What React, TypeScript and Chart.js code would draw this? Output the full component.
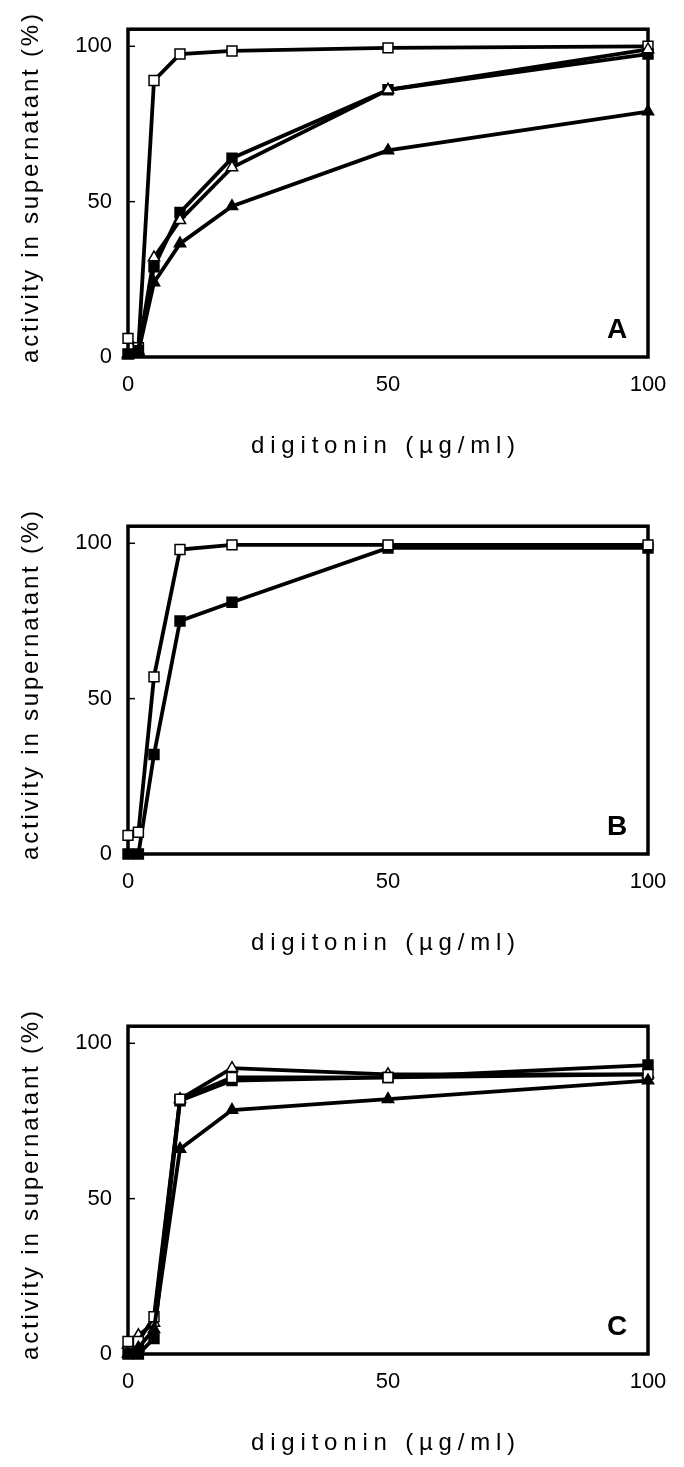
import React, { useEffect, useRef } from "react";
import { Chart, registerables } from "chart.js";

Chart.register(...registerables);

// digitonin concentrations (µg/ml)
const doseX = [0, 2, 5, 10, 20, 50, 100];
const xTickValues = [0, 50, 100];
const yTickValues = [0, 50, 100];

const xTitle = "digitonin (µg/ml)";
const yTitle = "activity in supernatant (%)";

// Panel A
const openSquareA = [6, 3, 89, 97.5, 98.5, 99.5, 100];
const filledSquareA = [1, 2, 29, 46.5, 64, 86, 97.5];
const openTriangleA = [1, 2, 32, 44, 61, 86, 99];
const filledTriangleA = [0.5, 1.5, 24, 36.5, 48.5, 66.5, 79];

// Panel B
const openSquareB = [6, 7, 57, 98, 99.5, 99.5, 99.5];
const filledSquareB = [0, 0, 32, 75, 81, 98.5, 98.5];

// Panel C
const openSquareC = [4, 4, 12, 82, 89, 89, 90];
const filledSquareC = [0, 0, 5, 81.5, 88, 89, 93];
const openTriangleC = [3, 6, 10, 82, 92, 90, 90];
const filledTriangleC = [0, 2, 8, 66, 78.5, 82, 88];

const FONT = '"Liberation Sans", Arial, Helvetica, sans-serif';

type SeriesDef = { label: string; values: number[]; shape: "rect" | "triangle"; filled: boolean };

const panelDefs: { letter: string; top: number; series: SeriesDef[] }[] = [
  {
    letter: "A",
    top: 0,
    series: [
      { label: "filled triangle", values: filledTriangleA, shape: "triangle", filled: true },
      { label: "open triangle", values: openTriangleA, shape: "triangle", filled: false },
      { label: "filled square", values: filledSquareA, shape: "rect", filled: true },
      { label: "open square", values: openSquareA, shape: "rect", filled: false },
    ],
  },
  {
    letter: "B",
    top: 497,
    series: [
      { label: "open square", values: openSquareB, shape: "rect", filled: false },
      { label: "filled square", values: filledSquareB, shape: "rect", filled: true },
    ],
  },
  {
    letter: "C",
    top: 997,
    series: [
      { label: "filled triangle", values: filledTriangleC, shape: "triangle", filled: true },
      { label: "open square", values: openSquareC, shape: "rect", filled: false },
      { label: "open triangle", values: openTriangleC, shape: "triangle", filled: false },
      { label: "filled square", values: filledSquareC, shape: "rect", filled: true },
    ],
  },
];

const framePlugin = {
  id: "frame",
  beforeDatasetsDraw(chart: any) {
    const { ctx, chartArea } = chart;
    const { left, top, right, bottom } = chartArea;
    ctx.save();
    ctx.strokeStyle = "#000";
    ctx.lineWidth = 3.5;
    ctx.strokeRect(left, top, right - left, bottom - top);
    ctx.lineWidth = 1.5;
    const ys = chart.scales.y;
    yTickValues.forEach((v) => {
      const py = ys.getPixelForValue(v);
      ctx.beginPath();
      ctx.moveTo(left, py);
      ctx.lineTo(left + 7, py);
      ctx.stroke();
    });
    ctx.restore();
  },
  afterDraw(chart: any, _args: any, opts: any) {
    const { ctx, chartArea } = chart;
    const { left, top, right, bottom } = chartArea;
    ctx.save();
    ctx.fillStyle = "#000";
    // x title
    ctx.font = `24px ${FONT}`;
    (ctx as any).letterSpacing = "5.8px";
    ctx.textAlign = "center";
    ctx.textBaseline = "middle";
    ctx.fillText(xTitle, (left + right) / 2 - 2, 446);
    // y title
    (ctx as any).letterSpacing = "2.8px";
    ctx.font = `24px ${FONT}`;
    ctx.translate(31, (top + bottom) / 2 - 6);
    ctx.rotate(-Math.PI / 2);
    ctx.fillText(yTitle, 0, 0);
    ctx.restore();
    // panel letter
    ctx.save();
    (ctx as any).letterSpacing = "0px";
    ctx.fillStyle = "#000";
    ctx.font = `bold 28px "Liberation Sans Narrow", ${FONT}`;
    ctx.textAlign = "center";
    ctx.textBaseline = "alphabetic";
    ctx.fillText(opts.letter, right - 31, bottom - 19);
    ctx.restore();
  },
};

function Panel({ def }: { def: (typeof panelDefs)[number] }) {
  const ref = useRef<HTMLCanvasElement | null>(null);
  useEffect(() => {
    if (!ref.current) return;
    const datasets = def.series.map((s) => ({
      label: s.label,
      data: s.values.map((y, i) => ({ x: doseX[i], y })),
      borderColor: "#000",
      borderWidth: 3.8,
      pointStyle: s.shape,
      pointRadius: s.shape === "rect" ? 7 : 6.5,
      pointBackgroundColor: s.filled ? "#000" : "#fff",
      pointBorderColor: "#000",
      pointBorderWidth: 1.5,
      fill: false,
      tension: 0,
      clip: false as any,
    }));
    const chart = new Chart(ref.current, {
      type: "line",
      data: { datasets },
      plugins: [framePlugin as any],
      options: {
        animation: false,
        responsive: false,
        maintainAspectRatio: false,
        layout: { padding: { top: 25, right: 36, left: 0, bottom: 0 } },
        plugins: {
          legend: { display: false },
          tooltip: { enabled: false },
          frame: { letter: def.letter },
        } as any,
        scales: {
          x: {
            type: "linear",
            min: 0,
            max: 100,
            afterBuildTicks: (s: any) => {
              s.ticks = xTickValues.map((v) => ({ value: v }));
            },
            afterFit: (s: any) => {
              s.height = 113;
            },
            grid: { display: false, drawTicks: false },
            border: { display: false },
            ticks: {
              padding: 15,
              color: "#000",
              maxRotation: 0,
              font: { family: FONT, size: 22 },
            },
          },
          y: {
            type: "linear",
            min: 0,
            max: 105.5,
            afterBuildTicks: (s: any) => {
              s.ticks = yTickValues.map((v) => ({ value: v }));
            },
            afterFit: (s: any) => {
              s.width = 128;
            },
            grid: { display: false, drawTicks: false },
            border: { display: false },
            ticks: {
              padding: 16,
              color: "#000",
              font: { family: FONT, size: 22 },
            },
          },
        },
      },
    });
    return () => chart.destroy();
  }, [def]);
  return (
    <canvas
      ref={ref}
      width={684}
      height={470}
      style={{ position: "absolute", left: 0, top: def.top, width: 684, height: 470 }}
    />
  );
}

export default function App() {
  return (
    <div style={{ position: "absolute", left: 0, top: 0, width: 684, height: 1467, background: "#fff" }}>
      {panelDefs.map((p) => (
        <Panel key={p.letter} def={p} />
      ))}
    </div>
  );
}
